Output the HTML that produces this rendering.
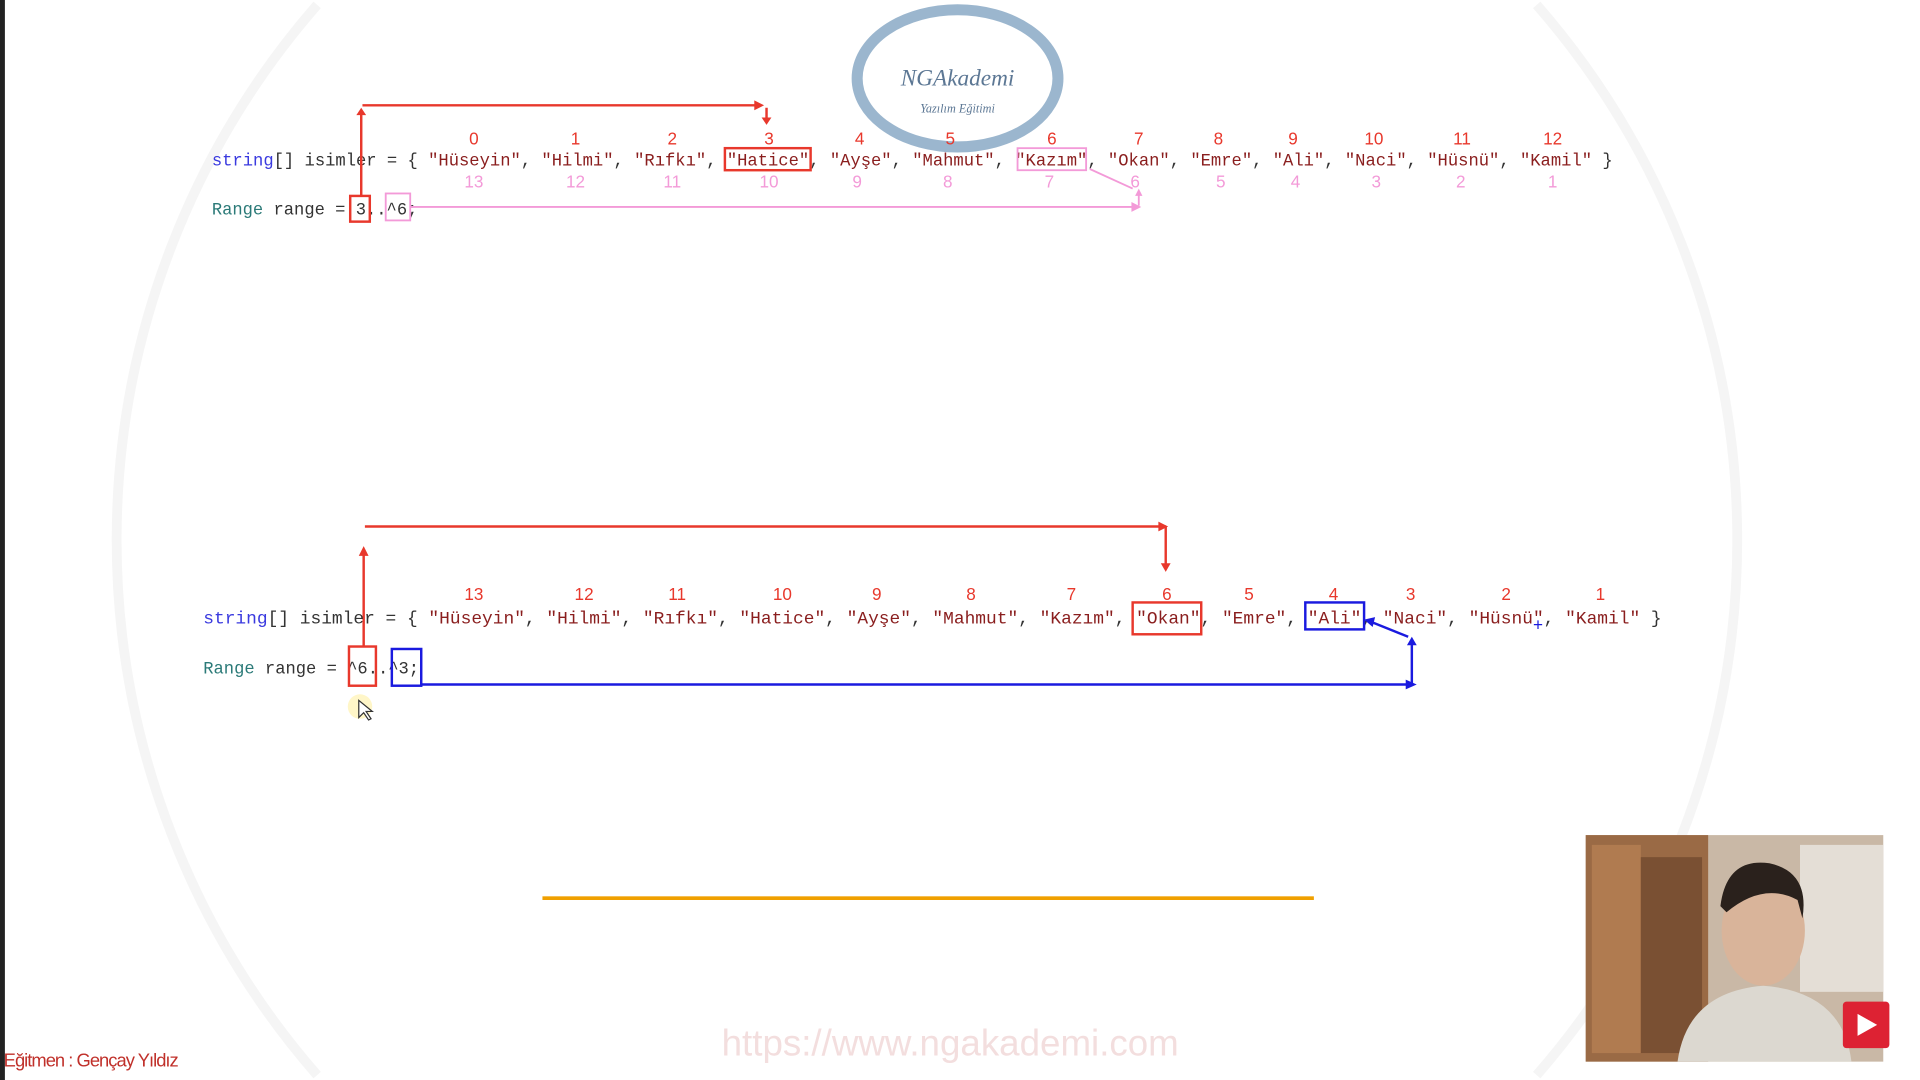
<!DOCTYPE html>
<html><head><meta charset="utf-8"><style>
html,body{margin:0;padding:0;width:1920px;height:1080px;overflow:hidden;background:#fff}
svg{display:block;overflow:hidden;position:absolute;left:0;top:0;width:1920px;height:1080px}
.c{font-family:"Liberation Mono",monospace;font-size:14px}
.n{font-family:"Liberation Sans",sans-serif;font-size:14px;text-anchor:middle}
</style></head><body>
<svg width="1920" height="1080" viewBox="0 0 1568 882" preserveAspectRatio="none">
<rect width="1568" height="882" fill="#fff"/>
<rect x="0" y="0" width="4" height="882" fill="#222"/>
<path d="M259,4 A665,665 0 0 0 259,878 M1255,4 A665,665 0 0 1 1255,878" fill="none" stroke="#f5f5f5" stroke-width="8"/>
<!-- logo -->
<ellipse cx="782" cy="64" rx="82" ry="56" fill="none" stroke="#8aa9c6" stroke-width="9" opacity="0.85"/>
<text x="782" y="70" font-family="Liberation Serif,serif" font-style="italic" font-size="19" fill="#5c7794" text-anchor="middle">NGAkademi</text>
<text x="782" y="92" font-family="Liberation Serif,serif" font-style="italic" font-size="10" fill="#5c7794" text-anchor="middle">Yazılım Eğitimi</text>

<g class="n" fill="#e8382c">
<text x="387" y="118">0</text><text x="470" y="118">1</text><text x="549" y="118">2</text><text x="628" y="118">3</text><text x="702" y="118">4</text><text x="776" y="118">5</text><text x="859" y="118">6</text><text x="930" y="118">7</text><text x="995" y="118">8</text><text x="1056" y="118">9</text><text x="1122" y="118">10</text><text x="1194" y="118">11</text><text x="1268" y="118">12</text>
</g>
<g class="n" fill="#f39ad8">
<text x="387" y="153">13</text><text x="470" y="153">12</text><text x="549" y="153">11</text><text x="628" y="153">10</text><text x="700" y="153">9</text><text x="774" y="153">8</text><text x="857" y="153">7</text><text x="927" y="153">6</text><text x="997" y="153">5</text><text x="1058" y="153">4</text><text x="1124" y="153">3</text><text x="1193" y="153">2</text><text x="1268" y="153">1</text>
</g>
<text class="c" x="173" y="135" textLength="1144" lengthAdjust="spacingAndGlyphs" fill="#8a1e1e"><tspan fill="#3a3adf">string</tspan><tspan fill="#333">[] isimler = { </tspan>"Hüseyin"<tspan fill="#333">, </tspan>"Hilmi"<tspan fill="#333">, </tspan>"Rıfkı"<tspan fill="#333">, </tspan>"Hatice"<tspan fill="#333">, </tspan>"Ayşe"<tspan fill="#333">, </tspan>"Mahmut"<tspan fill="#333">, </tspan>"Kazım"<tspan fill="#333">, </tspan>"Okan"<tspan fill="#333">, </tspan>"Emre"<tspan fill="#333">, </tspan>"Ali"<tspan fill="#333">, </tspan>"Naci"<tspan fill="#333">, </tspan>"Hüsnü"<tspan fill="#333">, </tspan>"Kamil"<tspan fill="#333"> }</tspan></text>
<text class="c" x="173" y="175" fill="#2b7a78">Range <tspan fill="#333">range = </tspan><tspan fill="#333">3..^6;</tspan></text>
<rect x="592" y="121" width="70" height="18" fill="none" stroke="#e8382c" stroke-width="2"/>
<rect x="831" y="121" width="56" height="18" fill="none" stroke="#f39ad8" stroke-width="1.5"/>
<rect x="286" y="160" width="16" height="21" fill="none" stroke="#e8382c" stroke-width="2"/>
<rect x="315" y="158" width="20" height="22" fill="none" stroke="#f39ad8" stroke-width="1.5"/>
<g stroke="#e8382c" stroke-width="2" fill="none">
<polyline points="295,160 295,90"/><polyline points="296,86 620,86"/><polyline points="626,88 626,98"/>
</g>
<polygon points="291,94 299,94 295,88" fill="#e8382c"/>
<polygon points="616,82 624,86 616,90" fill="#e8382c"/>
<polygon points="622,96 630,96 626,102" fill="#e8382c"/>
<g stroke="#f39ad8" stroke-width="1.5" fill="none">
<polyline points="335,169 930,169"/><polyline points="930,168 930,156"/><polyline points="890,138 925,154"/>
</g>
<polygon points="924,165 932,169 924,173" fill="#f39ad8"/>
<polygon points="927,160 933,160 930,154" fill="#f39ad8"/>

<g stroke="#e8382c" stroke-width="2" fill="none">
<polyline points="298,430 952,430"/><polyline points="297,528 297,452"/><polyline points="952,430 952,462"/>
</g>
<polygon points="293,454 301,454 297,446" fill="#e8382c"/>
<polygon points="946,426 954,430 946,434" fill="#e8382c"/>
<polygon points="948,460 956,460 952,467" fill="#e8382c"/>
<g class="n" fill="#e8382c">
<text x="387" y="490">13</text><text x="477" y="490">12</text><text x="553" y="490">11</text><text x="639" y="490">10</text><text x="716" y="490">9</text><text x="793" y="490">8</text><text x="875" y="490">7</text><text x="953" y="490">6</text><text x="1020" y="490">5</text><text x="1089" y="490">4</text><text x="1152" y="490">3</text><text x="1230" y="490">2</text><text x="1307" y="490">1</text>
</g>
<text class="c" x="166" y="509" textLength="1191" lengthAdjust="spacingAndGlyphs" fill="#8a1e1e"><tspan fill="#3a3adf">string</tspan><tspan fill="#333">[] isimler = { </tspan>"Hüseyin"<tspan fill="#333">, </tspan>"Hilmi"<tspan fill="#333">, </tspan>"Rıfkı"<tspan fill="#333">, </tspan>"Hatice"<tspan fill="#333">, </tspan>"Ayşe"<tspan fill="#333">, </tspan>"Mahmut"<tspan fill="#333">, </tspan>"Kazım"<tspan fill="#333">, </tspan>"Okan"<tspan fill="#333">, </tspan>"Emre"<tspan fill="#333">, </tspan>"Ali"<tspan fill="#333">, </tspan>"Naci"<tspan fill="#333">, </tspan>"Hüsnü"<tspan fill="#333">, </tspan>"Kamil"<tspan fill="#333"> }</tspan></text>
<text class="c" x="166" y="550" fill="#2b7a78">Range <tspan fill="#333">range = ^6..^3;</tspan></text>
<rect x="925" y="492" width="56" height="26" fill="none" stroke="#e8382c" stroke-width="2"/>
<rect x="1066" y="492" width="48" height="22" fill="none" stroke="#1a1adf" stroke-width="2"/>
<rect x="285" y="528" width="22" height="32" fill="none" stroke="#e8382c" stroke-width="2"/>
<rect x="320" y="530" width="24" height="30" fill="none" stroke="#1a1adf" stroke-width="2"/>
<g stroke="#1a1adf" stroke-width="2" fill="none">
<polyline points="344,559 1150,559"/><polyline points="1153,558 1153,525"/><polyline points="1150,520 1120,508"/>
</g>
<polygon points="1148,555 1157,559 1148,563" fill="#1a1adf"/>
<polygon points="1149,527 1157,527 1153,520" fill="#1a1adf"/>
<polygon points="1114,506 1123,504 1121,512" fill="#1a1adf"/>
<text x="1256" y="515" fill="#1a1adf" font-family="Liberation Sans,sans-serif" font-size="14" text-anchor="middle">+</text>
<circle cx="294" cy="577" r="10" fill="#fff6c8"/>
<polygon points="293,572 293,586 297,582 301,588 303,587 299,581 304,581" fill="#fff" stroke="#333" stroke-width="1"/>

<rect x="443" y="732" width="630" height="3" fill="#f0a000"/>

<text x="776" y="862" font-family="Liberation Sans,sans-serif" font-size="30" fill="#f3dede" text-anchor="middle">https://www.ngakademi.com</text>
<text x="3" y="871" font-family="Liberation Sans,sans-serif" font-size="15" fill="#c0302a" letter-spacing="-0.8">Eğitmen : Gençay Yıldız</text>

<rect x="1295" y="682" width="243" height="185" fill="#c9b8a6"/>
<rect x="1295" y="682" width="100" height="185" fill="#9a6a45"/>
<rect x="1300" y="690" width="40" height="170" fill="#b07b50"/>
<rect x="1340" y="700" width="50" height="160" fill="#7a5033"/>
<rect x="1470" y="690" width="68" height="120" fill="#e4ded6"/>
<ellipse cx="1440" cy="760" rx="34" ry="45" fill="#d9b49a"/>
<path d="M1405 740 Q1410 700 1445 705 Q1478 712 1472 750 L1468 735 Q1440 720 1410 745 Z" fill="#2a211c"/>
<path d="M1370 867 Q1378 810 1440 805 Q1505 810 1512 867 Z" fill="#dcd8d0"/>
<rect x="1505" y="818" width="38" height="38" fill="#d23" rx="3"/>
<polygon points="1517,828 1517,846 1533,837" fill="#fff"/>
</svg>
</body></html>
